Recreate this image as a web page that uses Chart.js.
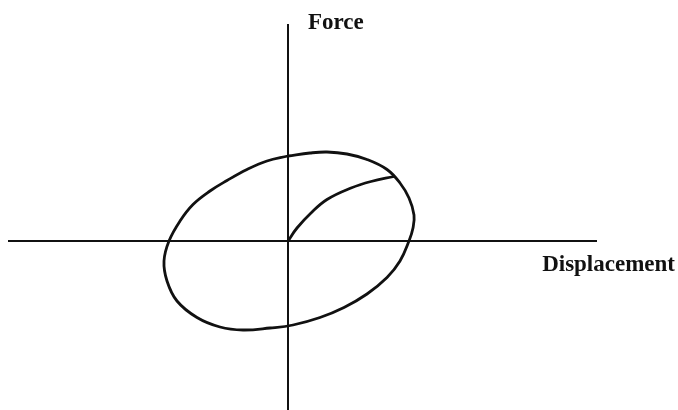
<!DOCTYPE html>
<html>
<head>
<meta charset="utf-8">
<script src="https://cdn.jsdelivr.net/npm/chart.js@4/dist/chart.umd.min.js"></script>
<style>
  html, body { margin: 0; padding: 0; background: #fff; }
  canvas { display: block; }
</style>
</head>
<body>
<canvas id="chart" width="678" height="410"></canvas>
<script>
// Hysteresis loop (displacement, force), clockwise from the top crossing
const loopX = [0, 2.2, 3.9, 5.9, 7.9, 9.9, 11.2, 12.1, 12.6, 12.5, 12.1, 11.2, 9.9, 7.9, 5.6, 3.2, 0.5, -1.8, -4.5, -6.8, -9.1, -11.1, -12.1, -12.4, -11.9, -10.8, -9.5, -7.8, -6.1, -4.1, -2.1, 0];
const loopY = [8.5, 8.8, 8.9, 8.7, 8.15, 7.15, 5.8, 4.3, 2.6, 1.3, 0, -2.0, -3.65, -5.3, -6.65, -7.65, -8.4, -8.7, -8.9, -8.6, -7.65, -6.0, -4.0, -2.0, 0, 2.0, 3.65, 5.0, 6.05, 7.15, 8.0, 8.5];

// Initial loading curve from the origin
const initX = [0, 0.9, 2.3, 3.9, 6.3, 8.3, 10.6];
const initY = [0, 1.3, 2.8, 4.15, 5.3, 5.95, 6.45];

const xLabel = "Displacement";
const yLabel = "Force";

const toPoints = (xs, ys) => xs.map((x, i) => ({ x: x, y: ys[i] }));

// axis names drawn next to the axis ends
const axisNames = {
    id: "axisNames",
    afterDraw(chart) {
        const c = chart.ctx;
        const xs = chart.scales.x;
        const ys = chart.scales.y;
        c.save();
        c.fillStyle = "#111";
        c.font = "bold 23px 'Liberation Serif', 'DejaVu Serif', serif";
        c.textBaseline = "alphabetic";
        c.textAlign = "left";
        c.fillText(yLabel, xs.getPixelForValue(0) + 20, ys.top + 4);
        c.textAlign = "right";
        c.fillText(xLabel, chart.width - 3, ys.getPixelForValue(0) + 30);
        c.restore();
    }
};

new Chart(document.getElementById("chart"), {
    type: "scatter",
    data: {
        datasets: [
            {
                data: toPoints(loopX, loopY),
                showLine: true,
                tension: 0.4,
                borderColor: "#111",
                borderWidth: 2.8,
                pointRadius: 0
            },
            {
                data: toPoints(initX, initY),
                showLine: true,
                tension: 0.4,
                borderColor: "#111",
                borderWidth: 2.8,
                pointRadius: 0
            }
        ]
    },
    options: {
        responsive: false,
        animation: false,
        layout: { padding: { left: 9, right: 82, top: 25, bottom: 0 } },
        plugins: {
            legend: { display: false },
            tooltip: { enabled: false }
        },
        scales: {
            x: {
                type: "linear",
                min: -27.9,
                max: 30.8,
                position: { y: 0 },
                ticks: { display: false },
                grid: { display: false },
                border: { color: "#111", width: 2 }
            },
            y: {
                type: "linear",
                min: -16.9,
                max: 21.6,
                position: { x: 0 },
                ticks: { display: false },
                grid: { display: false },
                border: { color: "#111", width: 2 }
            }
        }
    },
    plugins: [axisNames]
});
</script>
</body>
</html>
